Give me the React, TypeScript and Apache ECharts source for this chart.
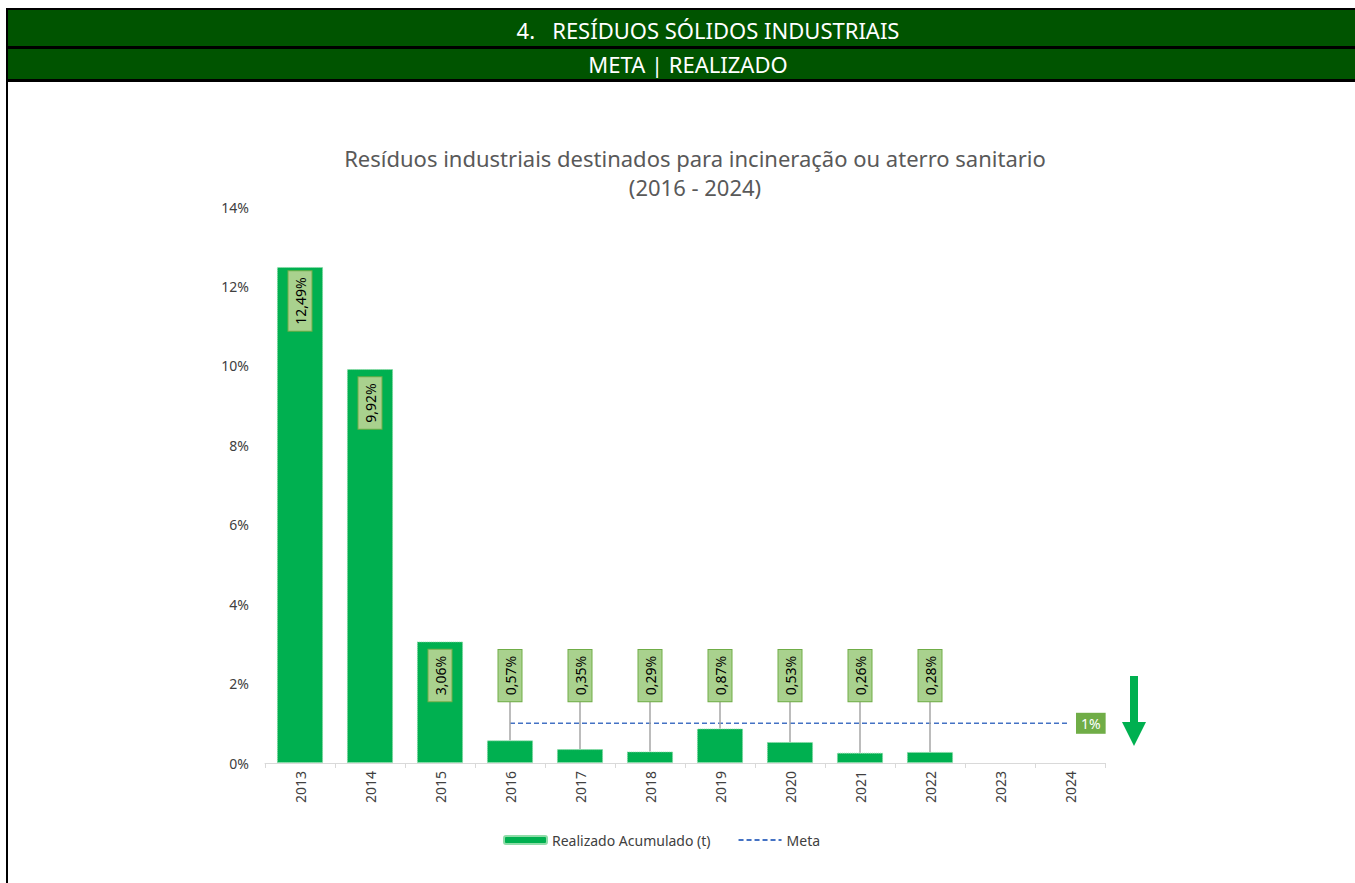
import React, { useEffect, useRef } from "react";
import * as echarts from "echarts";

const YEARS = ["2013", "2014", "2015", "2016", "2017", "2018", "2019", "2020", "2021", "2022", "2023", "2024"];
const REALIZADO: (number | null)[] = [12.49, 9.92, 3.06, 0.57, 0.35, 0.29, 0.87, 0.53, 0.26, 0.28, null, null];
const META: (number | null)[] = [null, null, null, 1, 1, 1, 1, 1, 1, 1, 1, 1];
const Y_MIN = 0;
const Y_MAX = 14;
const Y_INTERVAL = 2;
const CALLOUT_LEVEL = 2.2;

const HEADER_1 = "4.   RESÍDUOS SÓLIDOS INDUSTRIAIS";
const HEADER_2 = "META | REALIZADO";
const TITLE = "Resíduos industriais destinados para incineração ou aterro sanitario\n(2016 - 2024)";
const FONT = '"Noto Sans", sans-serif';

export default function App() {
  const ref = useRef<HTMLDivElement>(null);
  useEffect(() => {
    if (!ref.current) return;
    const chart = echarts.init(ref.current, null, { renderer: "svg" });
    const fmt = (v: number) => v.toFixed(2).replace(".", ",") + "%";
    const calloutData = REALIZADO.map((v, i) => (v == null ? null : [i, v])).filter((d) => d) as number[][];
    chart.setOption({
      animation: false,
      textStyle: { fontFamily: FONT },
      grid: { left: 265, right: 250, top: 207, bottom: 120, containLabel: false },
      legend: {
        data: ["Realizado Acumulado (t)", { name: "Meta", itemStyle: { opacity: 0 } }],
        left: 503,
        top: 833,
        padding: 0,
        itemWidth: 43,
        itemHeight: 8,
        itemGap: 27,
        textStyle: { color: "#404040", fontSize: 14, fontFamily: FONT },
      },
      xAxis: {
        type: "category",
        data: YEARS,
        axisLine: { lineStyle: { color: "#d9d9d9", width: 1 } },
        axisTick: { show: true, length: 5, lineStyle: { color: "#d9d9d9" } },
        axisLabel: { rotate: 90, color: "#404040", fontSize: 14, margin: 8, fontFamily: FONT },
      },
      yAxis: {
        type: "value",
        min: Y_MIN,
        max: Y_MAX,
        interval: Y_INTERVAL,
        splitLine: { show: false },
        axisLine: { show: false },
        axisTick: { show: false },
        axisLabel: { formatter: "{value}%", color: "#404040", fontSize: 14, margin: 16, fontFamily: FONT },
      },
      graphic: [
        { type: "rect", shape: { x: 6, y: 8, width: 1349, height: 74 }, style: { fill: "#000" } },
        { type: "rect", shape: { x: 6, y: 8, width: 2, height: 875 }, style: { fill: "#000" } },
        { type: "rect", shape: { x: 8, y: 10, width: 1347, height: 36 }, style: { fill: "#005400" } },
        { type: "rect", shape: { x: 8, y: 49, width: 1347, height: 30 }, style: { fill: "#005400" } },
        {
          type: "text",
          x: 708,
          y: 30,
          style: { text: HEADER_1, fill: "#fff", font: `22px ${FONT}`, align: "center", verticalAlign: "middle" },
        },
        {
          type: "text",
          x: 688,
          y: 64,
          style: { text: HEADER_2, fill: "#fff", font: `22px ${FONT}`, align: "center", verticalAlign: "middle" },
        },
        {
          type: "text",
          x: 695,
          y: 172,
          style: {
            text: TITLE,
            fill: "#595959",
            font: `22px ${FONT}`,
            lineHeight: 29,
            align: "center",
            verticalAlign: "middle",
          },
        },
        {
          type: "polygon",
          shape: {
            points: [
              [1130, 676],
              [1138, 676],
              [1138, 722],
              [1146, 722],
              [1134, 746],
              [1122, 722],
              [1130, 722],
            ],
          },
          style: { fill: "#00b050" },
        },
      ],
      series: [
        {
          name: "Realizado Acumulado (t)",
          type: "bar",
          data: REALIZADO,
          barWidth: "66%",
          itemStyle: { color: "#00b050", borderColor: "#8fdca8", borderType: "dotted", borderWidth: 1 },
          z: 2,
        },
        {
          name: "Meta",
          type: "line",
          data: META,
          symbol: "none",
          lineStyle: { color: "#4472c4", width: 1.6, type: [5, 3] },
          itemStyle: { color: "#4472c4" },
          endLabel: {
            show: true,
            distance: 6,
            formatter: (p: any) => p.value + "%",
            color: "#fff",
            backgroundColor: "#70ad47",
            padding: [4, 5, 3, 5],
            fontSize: 14,
            fontFamily: FONT,
          },
          z: 4,
        },
        {
          name: "labels",
          type: "custom",
          data: calloutData,
          encode: { x: 0, y: 1 },
          z: 5,
          renderItem: (params: any, api: any) => {
            const i = api.value(0);
            const v = api.value(1);
            const top = api.coord([i, v]);
            const inside = v > CALLOUT_LEVEL + 0.5;
            const children: any[] = [];
            let cy: number;
            if (inside) {
              cy = top[1] + 34;
            } else {
              cy = api.coord([i, CALLOUT_LEVEL])[1];
              children.push({
                type: "line",
                shape: { x1: top[0], y1: top[1], x2: top[0], y2: cy + 25 },
                style: { stroke: "#a6a6a6", lineWidth: 1.5 },
                z2: 1,
              });
            }
            children.push({
              type: "text",
              x: top[0],
              y: cy,
              rotation: Math.PI / 2,
              style: {
                text: fmt(v),
                fill: "#000",
                font: `14px ${FONT}`,
                align: "center",
                verticalAlign: "middle",
                backgroundColor: "#a9d18e",
                borderColor: "#70ad47",
                borderWidth: 1,
                padding: [5, 6, 4, 6],
              },
              z2: 2,
            });
            return { type: "group", children };
          },
        },
      ],
    });
    return () => chart.dispose();
  }, []);
  return <div ref={ref} style={{ position: "absolute", left: 0, top: 0, width: 1355, height: 883 }} />;
}
